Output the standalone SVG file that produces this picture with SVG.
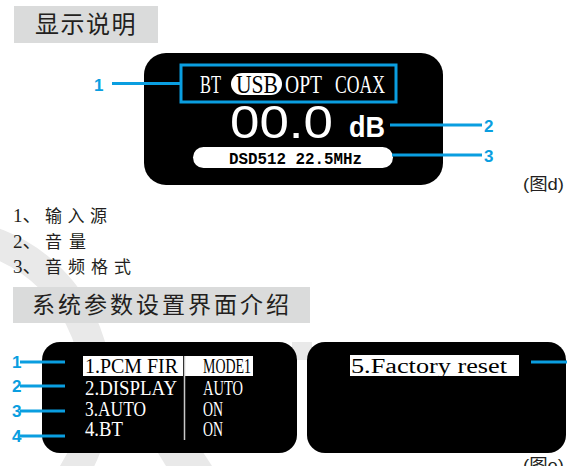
<svg xmlns="http://www.w3.org/2000/svg" width="567" height="466" viewBox="0 0 567 466">
<style>
.bg{fill:#ffffff}
.wm{fill:none;stroke:#e9e9e9}
.wmf{fill:#e9e9e9}
.title{fill:#dadbdb}
.tt{font-family:"Noto Sans CJK SC","Liberation Sans",sans-serif;fill:#231f20}
.lst{font-family:"Liberation Serif","Noto Sans CJK SC",serif;fill:#231f20;font-size:19px}
.lcj{font-family:"Noto Sans CJK SC",sans-serif;font-size:17px}
.scr{fill:#000}
.lcd{font-family:"Liberation Serif",serif;fill:#fff}
.hl{fill:#fff}
.ln{stroke:#0a9ee0;stroke-width:3;fill:none}
.num{font-family:"Liberation Sans",Arial,sans-serif;font-weight:bold;font-size:17px;fill:#0a9ee0}
.cap{font-family:"Liberation Sans","Noto Sans CJK SC",sans-serif;font-size:17px;fill:#231f20}
.mn{font-family:"Liberation Serif",serif;font-size:20px}
</style>
<rect class="bg" x="0" y="0" width="567" height="466"/>
<g id="watermark">
<circle class="wm" cx="-60" cy="390" r="157" stroke-width="30"/>
<polygon class="wmf" points="150,440 195,440 212,466 166,466"/>
<rect class="wmf" x="292" y="342" width="20" height="18"/>
</g>
<g id="title-display">
<rect class="title" x="14" y="6" width="144" height="37"/>
<text class="tt" x="35" y="33" font-size="24" letter-spacing="1.5">显示说明</text>
</g>
<g id="display-d">
<rect class="scr" x="144" y="53" width="299" height="132" rx="22"/>
<rect class="hl" x="231" y="73" width="51" height="22" rx="11"/>
<text class="lcd" x="200" y="93" font-size="25" textLength="21" lengthAdjust="spacingAndGlyphs">BT</text>
<text class="lcd" x="236" y="93" font-size="25" textLength="42" lengthAdjust="spacingAndGlyphs" style="fill:#000">USB</text>
<text class="lcd" x="285" y="93" font-size="25" textLength="37" lengthAdjust="spacingAndGlyphs">OPT</text>
<text class="lcd" x="335" y="93" font-size="25" textLength="50" lengthAdjust="spacingAndGlyphs">COAX</text>
<text x="230" y="138" font-family="Liberation Sans,Arial,sans-serif" font-size="46" fill="#fff" textLength="103" lengthAdjust="spacingAndGlyphs">00.0</text>
<text x="349" y="137" font-family="Liberation Sans,Arial,sans-serif" font-weight="bold" font-size="30" fill="#fff" textLength="36" lengthAdjust="spacingAndGlyphs">dB</text>
<rect class="hl" x="193" y="147" width="200" height="21" rx="10.5"/>
<text x="229" y="164" font-family="Liberation Mono,monospace" font-weight="bold" font-size="17" fill="#000" textLength="133" lengthAdjust="spacingAndGlyphs">DSD512 22.5MHz</text>
</g>
<g id="callout-1">
<rect class="ln" x="181" y="65" width="215" height="37"/>
<text class="num" x="94" y="91">1</text>
</g>
<g id="callout-2"><text class="num" x="484" y="132">2</text></g>
<g id="callout-3"><text class="num" x="484" y="162">3</text></g>
<text class="cap" x="523" y="190" textLength="41" lengthAdjust="spacingAndGlyphs">(图d)</text>
<g id="legend">
<text class="lst" x="13" y="222">1、<tspan class="lcj" x="45" letter-spacing="5.5">输入源</tspan></text>
<text class="lst" x="13" y="248">2、<tspan class="lcj" x="45" letter-spacing="7">音量</tspan></text>
<text class="lst" x="13" y="273">3、<tspan class="lcj" x="45" letter-spacing="6">音频格式</tspan></text>
</g>
<g id="title-settings">
<rect class="title" x="13" y="287" width="297" height="36"/>
<text class="tt" x="32" y="313" font-size="23" letter-spacing="3">系统参数设置界面介绍</text>
</g>
<g id="display-menu">
<rect class="scr" x="42" y="342" width="255" height="111" rx="18"/>
<rect class="hl" x="83" y="356" width="100" height="20"/>
<rect class="hl" x="185" y="356" width="68" height="20"/>
<line x1="184.5" y1="356" x2="184.5" y2="440" stroke="#c8c8c8" stroke-width="1.5"/>
<text class="mn" x="85" y="373" fill="#000" textLength="93" lengthAdjust="spacingAndGlyphs">1.PCM FIR</text>
<text class="mn" x="203" y="373" fill="#000" textLength="48" lengthAdjust="spacingAndGlyphs">MODE1</text>
<text class="mn" x="85" y="395" fill="#fff" textLength="92" lengthAdjust="spacingAndGlyphs">2.DISPLAY</text>
<text class="mn" x="203" y="395" fill="#fff" textLength="40" lengthAdjust="spacingAndGlyphs">AUTO</text>
<text class="mn" x="85" y="416" fill="#fff" textLength="61" lengthAdjust="spacingAndGlyphs">3.AUTO</text>
<text class="mn" x="203" y="416" fill="#fff" textLength="20" lengthAdjust="spacingAndGlyphs">ON</text>
<text class="mn" x="85" y="436" fill="#fff" textLength="38" lengthAdjust="spacingAndGlyphs">4.BT</text>
<text class="mn" x="203" y="436" fill="#fff" textLength="20" lengthAdjust="spacingAndGlyphs">ON</text>
</g>
<g id="menu-labels">
<text class="num" x="12" y="368">1</text>
<text class="num" x="12" y="392">2</text>
<text class="num" x="12" y="417">3</text>
<text class="num" x="12" y="442">4</text>
</g>
<g id="display-reset">
<rect class="scr" x="307" y="342" width="259" height="111" rx="18"/>
<rect class="hl" x="350" y="355" width="169" height="21"/>
<text class="mn" x="351" y="373" fill="#000" textLength="156" lengthAdjust="spacingAndGlyphs">5.Factory reset</text>
</g>
<text class="cap" x="523" y="471" textLength="41" lengthAdjust="spacingAndGlyphs">(图e)</text>
<g id="connectors">
<line class="ln" x1="112" y1="83.5" x2="181" y2="83.5"/>
<line class="ln" x1="390" y1="125" x2="482" y2="125"/>
<line class="ln" x1="392" y1="155" x2="482" y2="155"/>
<line class="ln" x1="20" y1="362" x2="65" y2="362"/>
<line class="ln" x1="20" y1="386" x2="65" y2="386"/>
<line class="ln" x1="20" y1="411" x2="65" y2="411"/>
<line class="ln" x1="20" y1="436" x2="65" y2="436"/>
<line class="ln" x1="531" y1="362" x2="567" y2="362"/>
</g>
</svg>
